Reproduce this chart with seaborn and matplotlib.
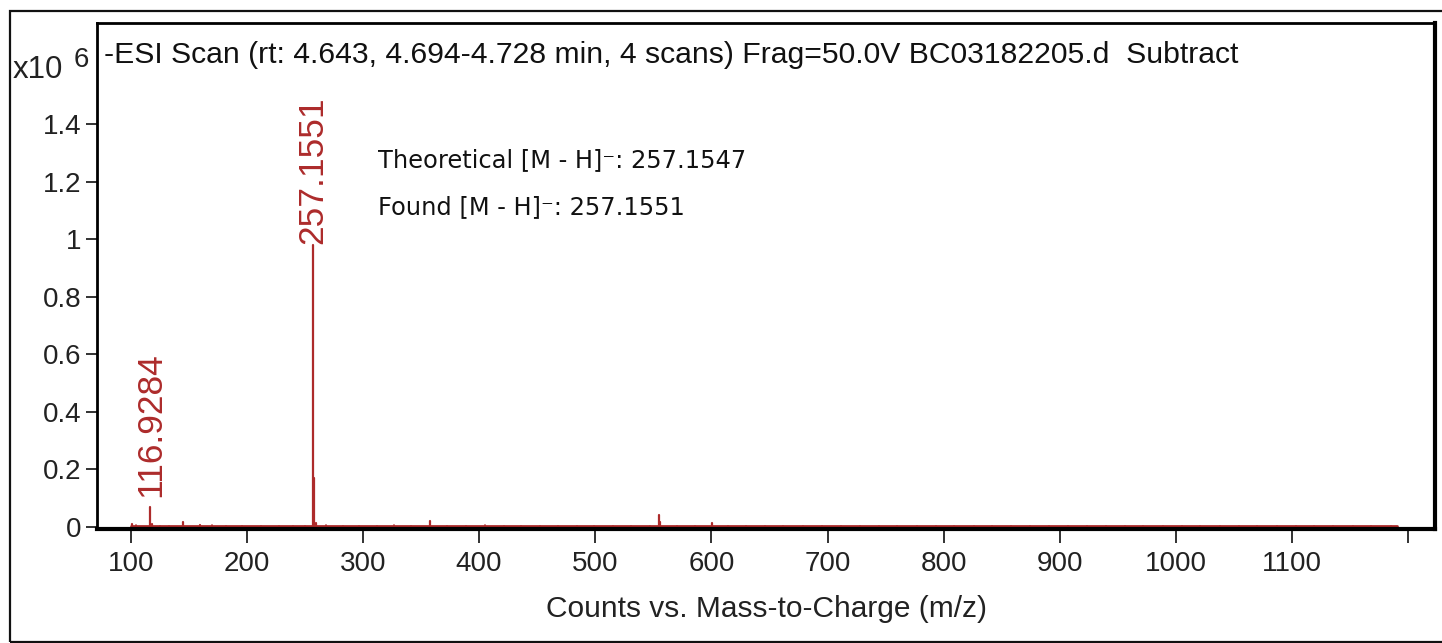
import matplotlib
matplotlib.use("Agg")
import matplotlib.pyplot as plt
import seaborn as sns
import pandas as pd
from matplotlib.patches import Rectangle

# ---- data (intensity in units of 1e6 counts) ----
peak_mz = [101.0, 116.9284, 118.2, 145.1, 160.0, 257.1551, 258.16, 259.2,
           358.1, 555.0, 556.0, 600.1]
peak_int = [0.010, 0.070, 0.012, 0.016, 0.007, 0.980, 0.170, 0.015,
            0.020, 0.040, 0.016, 0.013]
noise_mz = [105, 125, 133, 170, 182, 196, 212, 228, 240, 250, 268, 283, 297, 312,
            327, 341, 372, 389, 405, 421, 436, 452, 468, 484, 499, 515, 531, 547,
            570, 586, 614, 630, 646, 662, 679, 695, 712, 728, 744, 760, 777, 793,
            809, 826, 842, 858, 874, 891, 907, 923, 940, 956, 972, 989, 1005, 1021,
            1038, 1054, 1070, 1087, 1103, 1119, 1135, 1152, 1168, 1185]
noise_int = [0.006, 0.005, 0.004, 0.006, 0.004, 0.005, 0.004, 0.005, 0.004, 0.005,
             0.006, 0.004, 0.005, 0.004, 0.006, 0.004, 0.005, 0.004, 0.006, 0.004,
             0.005, 0.004, 0.005, 0.004, 0.004, 0.005, 0.004, 0.005, 0.004, 0.005,
             0.004, 0.005, 0.004, 0.004, 0.005, 0.004, 0.004, 0.005, 0.004, 0.004,
             0.005, 0.004, 0.004, 0.005, 0.004, 0.004, 0.005, 0.004, 0.004, 0.005,
             0.004, 0.004, 0.005, 0.004, 0.004, 0.005, 0.004, 0.004, 0.005, 0.004,
             0.004, 0.005, 0.004, 0.004, 0.005, 0.004]
baseline_mz = [100, 1190]
baseline_int = [0.003, 0.003]
label_mz = [116.9284, 257.1551]
label_int = [0.070, 0.980]
label_txt = ["116.9284", "257.1551"]
x_ticks = [100, 200, 300, 400, 500, 600, 700, 800, 900, 1000, 1100, 1200]
x_ticklabels = ["100", "200", "300", "400", "500", "600", "700", "800", "900",
                "1000", "1100", ""]
y_ticks = [0, 0.2, 0.4, 0.6, 0.8, 1.0, 1.2, 1.4]
y_ticklabels = ["0", "0.2", "0.4", "0.6", "0.8", "1", "1.2", "1.4"]
title = "-ESI Scan (rt: 4.643, 4.694-4.728 min, 4 scans) Frag=50.0V BC03182205.d  Subtract"
anno1 = "Theoretical [M - H]\u207b: 257.1547"
anno2 = "Found [M - H]\u207b: 257.1551"
xlabel = "Counts vs. Mass-to-Charge (m/z)"

RED = "#ad2b2b"

# build stick spectrum as a path
def sticks(mz, inten):
    xs, ys, gid = [], [], []
    for i, (m, h) in enumerate(zip(mz, inten)):
        xs += [m, m]
        ys += [0.0, h]
        gid += [i, i]
    return pd.DataFrame({"mz": xs, "int": ys, "g": gid})

sns.set_theme(style="white")
plt.rcParams["font.family"] = ["Liberation Sans", "DejaVu Sans"]

fig = plt.figure(figsize=(14.42, 6.43), dpi=100)
ax = fig.add_axes([97 / 1442, 1 - 529 / 643, (1435 - 97) / 1442, (529 - 23) / 643])

df_base = pd.DataFrame({"mz": baseline_mz, "int": baseline_int})
sns.lineplot(data=df_base, x="mz", y="int", ax=ax, color=RED, lw=2.0,
             estimator=None, sort=False)
df_noise = sticks(noise_mz, noise_int)
sns.lineplot(data=df_noise, x="mz", y="int", units="g", ax=ax, color=RED, lw=1.2,
             estimator=None, sort=False)
df_peaks = sticks(peak_mz, peak_int)
sns.lineplot(data=df_peaks, x="mz", y="int", units="g", ax=ax, color=RED, lw=1.6,
             estimator=None, sort=False)

label_gap = [0.035, 0.004]
for m, h, t, g in zip(label_mz, label_int, label_txt, label_gap):
    ax.text(m, h + g, t, rotation=90, ha="center", va="bottom",
            color=RED, fontsize=25.5, family="Liberation Sans")

ax.set_xlim(71, 1223)
ax.set_ylim(-0.007, 1.752)
ax.set_xticks(x_ticks)
ax.set_xticklabels(x_ticklabels)
ax.set_yticks(y_ticks)
ax.set_yticklabels(y_ticklabels)
ax.tick_params(axis="both", which="major", labelsize=20, colors="#222222",
               direction="out", length=8, width=1.3, left=True, bottom=True)
ax.tick_params(axis="x", length=10, pad=6)
ax.tick_params(axis="y", pad=3)
ax.set_xlabel(xlabel, fontsize=21.5, color="#222222", labelpad=13)
ax.set_ylabel("")
for side in ["left", "top"]:
    ax.spines[side].set_linewidth(2.0)
    ax.spines[side].set_color("black")
for side in ["right", "bottom"]:
    ax.spines[side].set_linewidth(3.0)
    ax.spines[side].set_color("black")

ax.text(104 / 1442, 1 - 55 / 643, title, transform=fig.transFigure,
        fontsize=21.7, va="center", ha="left", color="#111111")
ax.text(378 / 1442, 1 - 160 / 643, anno1, transform=fig.transFigure,
        fontsize=17.4, va="center", ha="left", color="#111111", family="DejaVu Sans")
ax.text(378 / 1442, 1 - 207 / 643, anno2, transform=fig.transFigure,
        fontsize=17.4, va="center", ha="left", color="#111111", family="DejaVu Sans")

fig.text(13 / 1442, 1 - 70 / 643, "x10", fontsize=22.5, va="center", ha="left",
         color="#222222")
fig.text(74 / 1442, 1 - 60 / 643, "6", fontsize=20, va="center", ha="left",
         color="#222222")

# outer frame
fig.patches.append(Rectangle((10 / 1442, 1 / 643), 1.2, 1 - 11 / 643 - 1 / 643,
                             transform=fig.transFigure, fill=False,
                             edgecolor="#111111", lw=1.6, zorder=0))

fig.savefig("out.png", dpi=100)
